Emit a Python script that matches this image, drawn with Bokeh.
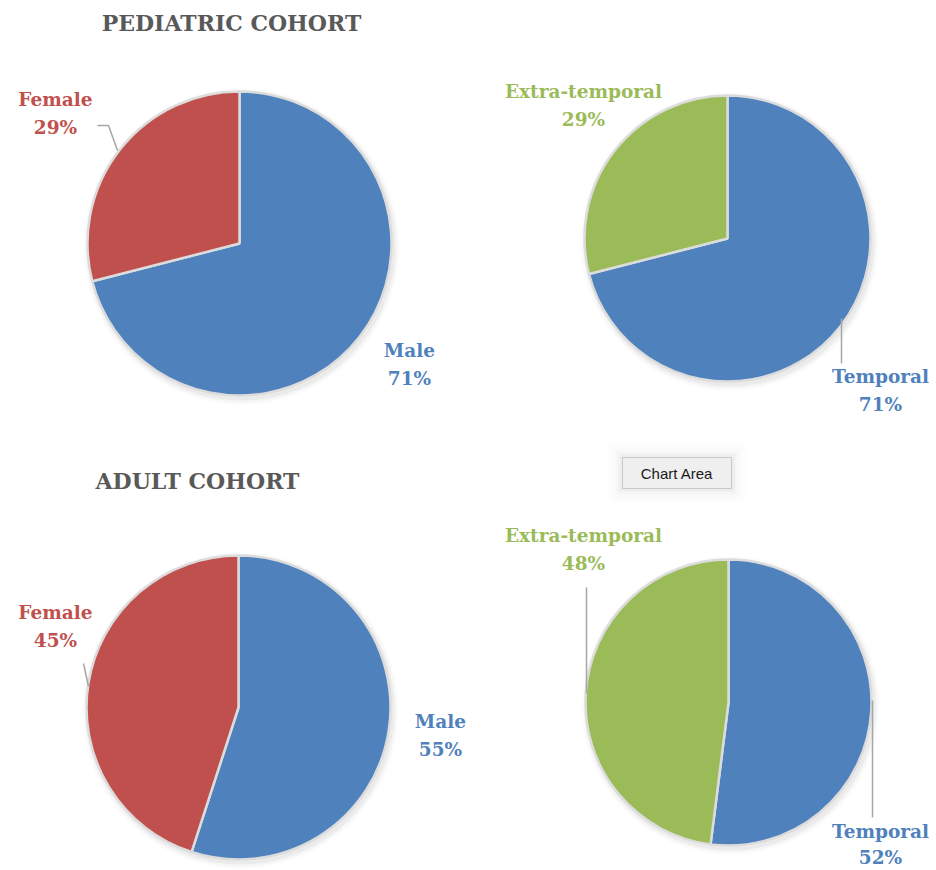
import math
from bokeh.plotting import figure
from bokeh.models import Range1d, ColumnDataSource
from bokeh.core.properties import value
from bokeh.embed import file_html
from bokeh.resources import INLINE

# ---------------- data ----------------
sex_categories = ["Male", "Female"]
pediatric_sex = [71, 29]
adult_sex = [55, 45]

location_categories = ["Temporal", "Extra-temporal"]
pediatric_location = [71, 29]
adult_location = [52, 48]

titles = ["PEDIATRIC COHORT", "ADULT COHORT"]
tooltip_text = "Chart Area"

# ---------------- styles ----------------
W, H = 936, 870
BLUE, RED, GREEN = "#4F81BD", "#C0504D", "#9BBB59"
SERIF = "DejaVu Serif"
LABEL_SIZE = "18.5px"

def Y(py):
    return H - py

p = figure(width=W, height=H, x_range=Range1d(0, W), y_range=Range1d(0, H),
           output_backend="svg", toolbar_location=None, min_border=0)
p.axis.visible = False
p.grid.visible = False
p.outline_line_color = None
p.background_fill_color = "white"
p.border_fill_color = "white"


def draw_pie(cx, cy, r, values, colors):
    # soft shadow, offset to lower right
    for k, a in [(6, 0.015), (4, 0.025), (2, 0.04)]:
        p.circle(x=[cx + 2], y=[Y(cy) - 3], radius=r + k, fill_color="black",
                 fill_alpha=a, line_color=None)
    total = float(sum(values))
    starts, ends = [], []
    a0 = math.pi / 2
    for v in values:
        a1 = a0 - 2 * math.pi * v / total
        starts.append(a0)
        ends.append(a1)
        a0 = a1
    src = ColumnDataSource(dict(x=[cx] * len(values), y=[Y(cy)] * len(values),
                                s=starts, e=ends, c=colors))
    p.wedge(x="x", y="y", radius=r, start_angle="s", end_angle="e",
            direction="clock", fill_color="c", line_color="#dcdcdc",
            line_width=2.5, source=src)


def draw_label(x, y, name, pct, color, gap=28):
    p.text(x=[x, x], y=[Y(y), Y(y + gap)], text=[name, f"{pct}%"],
           text_font=value(SERIF), text_font_style="bold",
           text_font_size=LABEL_SIZE, text_color=color,
           text_align="center", text_baseline="middle")


def leader(xs, ys):
    p.line(x=xs, y=[Y(v) for v in ys], line_color="#a6a6a6", line_width=1.5)


# --- pies ---
draw_pie(239, 243, 152, pediatric_sex, [BLUE, RED])
draw_pie(727, 238, 143, pediatric_location, [BLUE, GREEN])
draw_pie(238, 707, 152, adult_sex, [BLUE, RED])
draw_pie(728, 702, 143, adult_location, [BLUE, GREEN])

# --- leader lines ---
leader([97, 108, 117], [125, 125, 150])
leader([841, 841], [318, 363])
leader([83, 88], [663, 686])
leader([586, 586], [587, 693])
leader([872, 872], [700, 817])

# --- labels ---
draw_label(55, 99, sex_categories[1], pediatric_sex[1], RED)
draw_label(409, 350, sex_categories[0], pediatric_sex[0], BLUE)
draw_label(583, 91, location_categories[1], pediatric_location[1], GREEN)
draw_label(880, 376, location_categories[0], pediatric_location[0], BLUE)

draw_label(55, 612, sex_categories[1], adult_sex[1], RED)
draw_label(440, 721, sex_categories[0], adult_sex[0], BLUE)
draw_label(583, 535, location_categories[1], adult_location[1], GREEN)
draw_label(880, 831, location_categories[0], adult_location[0], BLUE, gap=26)

# --- titles ---
p.text(x=[231, 197], y=[Y(22), Y(480)], text=titles,
       text_font=value(SERIF), text_font_style="bold", text_font_size="22px",
       text_color="#595959", text_align="center", text_baseline="middle")

# --- "Chart Area" tooltip ---
for k, a in [(14, 0.008), (10, 0.012), (6, 0.018), (3, 0.03)]:
    p.quad(left=[622 - k], right=[731 + k], top=[Y(457 - k)], bottom=[Y(488 + k)],
           fill_color="black", fill_alpha=a, line_color=None)
p.quad(left=[622], right=[731], top=[Y(457)], bottom=[Y(488)],
       fill_color="#efefef", line_color="#c8c8c8", line_width=1)
p.text(x=[676.5], y=[Y(473)], text=[tooltip_text], text_font=value("Liberation Sans"),
       text_font_size="15px", text_color="#1a1a1a", text_align="center",
       text_baseline="middle")

open("out.html", "w").write(file_html(p, INLINE))
